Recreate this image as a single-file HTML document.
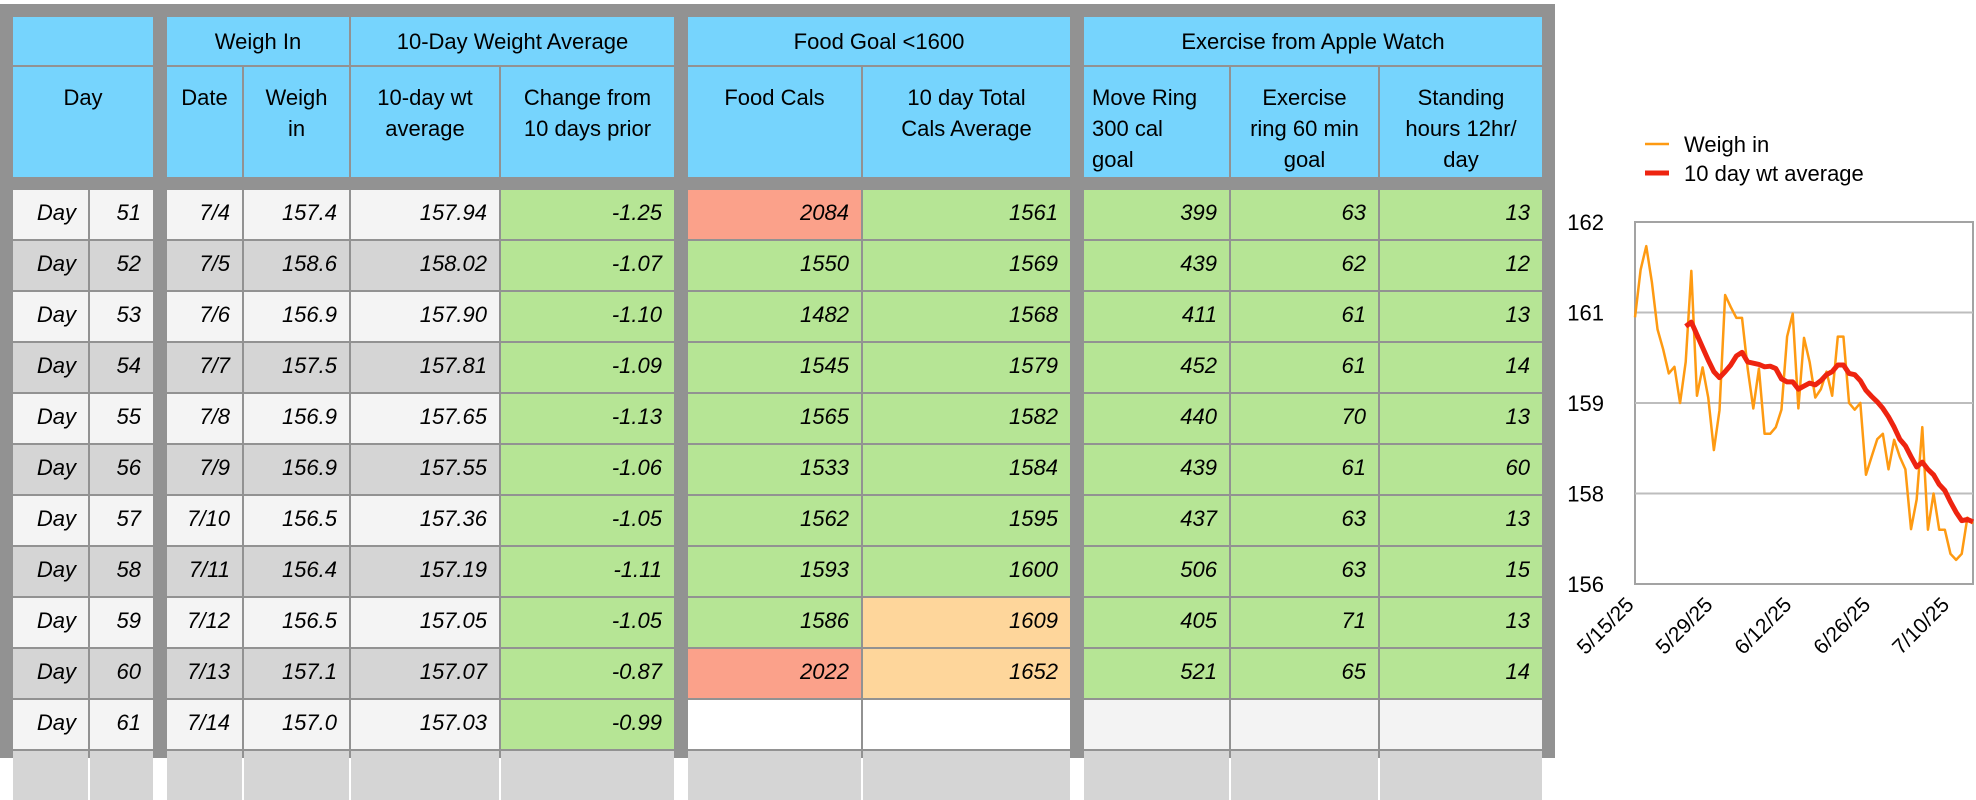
<!DOCTYPE html>
<html><head><meta charset="utf-8">
<style>
html,body{margin:0;padding:0;background:#fff;}
body{width:1976px;height:758px;position:relative;overflow:hidden;font-family:"Liberation Sans",sans-serif;}
#sheet{position:absolute;left:0;top:4px;width:1555px;height:754px;background:#929292;}
.c{position:absolute;box-sizing:border-box;font-size:22px;color:#000;white-space:nowrap;}
.h{background:#76d4fd;text-align:center;line-height:26px;}
.d{font-style:italic;text-align:right;padding-right:12px;line-height:46px;}
</style></head>
<body>
<div id="sheet"></div>
<div id="cells"></div>
<svg id="chart" width="1976" height="758" style="position:absolute;left:0;top:0;pointer-events:none"></svg>
<script>
const dayNums=[51,52,53,54,55,56,57,58,59,60,61];
const dates=["7/4","7/5","7/6","7/7","7/8","7/9","7/10","7/11","7/12","7/13","7/14"];
const weighs=["157.4","158.6","156.9","157.5","156.9","156.9","156.5","156.4","156.5","157.1","157.0"];
const avgs=["157.94","158.02","157.90","157.81","157.65","157.55","157.36","157.19","157.05","157.07","157.03"];
const changes=["-1.25","-1.07","-1.10","-1.09","-1.13","-1.06","-1.05","-1.11","-1.05","-0.87","-0.99"];
const foods=["2084","1550","1482","1545","1565","1533","1562","1593","1586","2022",""];
const totals=["1561","1569","1568","1579","1582","1584","1595","1600","1609","1652",""];
const moves=["399","439","411","452","440","439","437","506","405","521",""];
const exers=["63","62","61","61","70","61","63","63","71","65",""];
const stands=["13","12","13","14","13","60","13","15","13","14",""];

const cols=[[12,89],[89,154],[166,243],[243,350],[350,500],[500,675],[687,862],[862,1071],[1083,1230],[1230,1379],[1379,1543]];
const colNames=['day-label','day-number','date','weigh-in','ten-day-avg','change','food-cals','total-cals-avg','move-ring','exercise-ring','standing-hours'];
const host=document.getElementById('cells');
function cell(x0,x1,y0,y1,cls,bg,txt){
  const e=document.createElement('div');
  e.className='c '+cls;
  e.style.left=(x0+1)+'px';e.style.top=(y0+1)+'px';
  e.style.width=(x1-x0-2)+'px';e.style.height=(y1-y0-2)+'px';
  if(bg)e.style.background=bg;
  e.innerHTML=txt;
  host.appendChild(e);
  return e;
}
let e;
// header row 1
e=cell(12,154,16,66,'h','','');


e=cell(166,350,16,66,'h','','<div style="padding-top:12px">Weigh In</div>');


e=cell(350,675,16,66,'h','','<div style="padding-top:12px">10-Day Weight Average</div>');


e=cell(687,1071,16,66,'h','','<div style="padding-top:12px">Food Goal &lt;1600</div>');


e=cell(1083,1543,16,66,'h','','<div style="padding-top:12px">Exercise from Apple Watch</div>');


// header row 2
const h2=[[12,154,'Day'],[166,243,'Date'],[243,350,'Weigh<br>in'],[350,500,'10-day wt<br>average'],[500,675,'Change from<br>10 days prior'],[687,862,'Food Cals'],[862,1071,'10 day Total<br>Cals Average'],[1083,1230,'<div style="text-align:left;padding-left:8px">Move Ring<br>300 cal<br>goal</div>'],[1230,1379,'Exercise<br>ring 60 min<br>goal'],[1379,1543,'Standing<br>hours 12hr/<br>day']];
for(const h of h2){
  e=cell(h[0],h[1],66,178,'h','','<div style="padding-top:15px;line-height:31px">'+h[2]+'</div>');
  
  
}
// data rows
const green='#b6e595',red='#fba18a',orange='#fed69b';
for(let i=0;i<12;i++){
  const y0=189+i*51,y1=y0+51;
  const base=(i%2===0)?'#f4f4f4':'#d5d5d5';
  const vals=i<11?['Day',dayNums[i],dates[i],weighs[i],avgs[i],changes[i],foods[i],totals[i],moves[i],exers[i],stands[i]]:['','','','','','','','','','',''];
  for(let c=0;c<cols.length;c++){
    let bg=base;
    if(i<11){
      if(c===5)bg=green;
      if(c>=6){
        if(vals[c]===''){bg=(c<8)?'#ffffff':'#f3f3f3';}
        else if(c===6){bg=(+vals[c]>1600)?red:green;}
        else if(c===7){bg=(+vals[c]>1600)?orange:green;}
        else bg=green;
      }
    }
    e=cell(cols[c][0],cols[c][1],y0,y1,'d',bg,String(vals[c]));
    
    
  }
}

// chart data
const weighIn=[160.42,161.21,161.6,161.0,160.22,159.89,159.49,159.6,159.0,159.68,161.19,159.12,159.59,159.09,158.22,158.88,160.79,160.59,160.41,160.41,159.57,158.91,159.57,158.49,158.49,158.6,158.89,160.1,160.48,158.91,160.08,159.68,159.09,159.23,159.52,159.12,160.1,160.1,159.0,158.89,159.0,157.81,158.11,158.4,158.49,157.9,158.39,158.11,157.9,156.91,157.4,158.6,156.9,157.5,156.9,156.9,156.5,156.4,156.5,157.1,157.0];
const avgStartDay=10;
const tenDayAvg=[160.27,160.34,160.13,159.92,159.71,159.52,159.42,159.52,159.63,159.78,159.84,159.68,159.66,159.64,159.6,159.61,159.57,159.4,159.35,159.35,159.23,159.28,159.33,159.3,159.37,159.47,159.52,159.63,159.63,159.49,159.47,159.37,159.21,159.11,159.02,158.91,158.77,158.6,158.4,158.29,158.11,157.94,158.02,157.90,157.81,157.65,157.55,157.36,157.19,157.05,157.07,157.03];
const yTicks=[162,160.5,159,157.5,156];
const yTickLabels=["162","161","159","158","156"];
const xTickDays=[1,15,29,43,57];
const xTickLabels=["5/15/25","5/29/25","6/12/25","6/26/25","7/10/25"];

const svg=document.getElementById('chart');
const NS='http://www.w3.org/2000/svg';
const PX0=1635,PX1=1973,PY0=222,PY1=584,YMIN=156,YMAX=162,DMAX=61;
const xs=d=>PX0+(d-1)/(DMAX-1)*(PX1-PX0);
const ys=v=>PY1-(v-YMIN)/(YMAX-YMIN)*(PY1-PY0);
function mk(tag,attrs){const el=document.createElementNS(NS,tag);for(const k in attrs)el.setAttribute(k,attrs[k]);svg.appendChild(el);return el;}
let r=mk('rect',{x:PX0,y:PY0,width:PX1-PX0,height:PY1-PY0,fill:'#fff',stroke:'#a3a3a3','stroke-width':2});


yTicks.forEach((v,i)=>{
  if(i>0&&i<yTicks.length-1){
    const g=mk('line',{x1:PX0,x2:PX1,y1:ys(v),y2:ys(v),stroke:'#bdbdbd','stroke-width':2});
    
    
  }
  const t=mk('text',{x:1604,y:ys(v)+8,'text-anchor':'end','font-size':22,'font-family':'Liberation Sans, sans-serif'});
  t.textContent=yTickLabels[i];
  
  
});
xTickDays.forEach((d,i)=>{
  const x=xs(d),y=PY1+22;
  const t=mk('text',{x:x,y:y,'text-anchor':'end','font-size':21,'font-family':'Liberation Sans, sans-serif',transform:`rotate(-45 ${x} ${y})`});
  t.textContent=xTickLabels[i];
  
  
});
let p=mk('polyline',{points:weighIn.map((v,i)=>xs(i+1)+','+ys(v)).join(' '),fill:'none',stroke:'#fe9a12','stroke-width':2.5,'stroke-linejoin':'round'});


p=mk('polyline',{points:tenDayAvg.map((v,i)=>xs(i+avgStartDay)+','+ys(v)).join(' '),fill:'none',stroke:'#ee2410','stroke-width':5,'stroke-linejoin':'round'});


// legend
let l=mk('line',{x1:1645,x2:1669,y1:144,y2:144,stroke:'#fe9a12','stroke-width':2.5});


let lt=mk('text',{x:1684,y:152,'font-size':22,'font-family':'Liberation Sans, sans-serif'});
lt.textContent='Weigh in';


l=mk('line',{x1:1645,x2:1669,y1:173,y2:173,stroke:'#ee2410','stroke-width':5});


lt=mk('text',{x:1684,y:181,'font-size':22,'font-family':'Liberation Sans, sans-serif'});
lt.textContent='10 day wt average';


</script>
</body></html>
